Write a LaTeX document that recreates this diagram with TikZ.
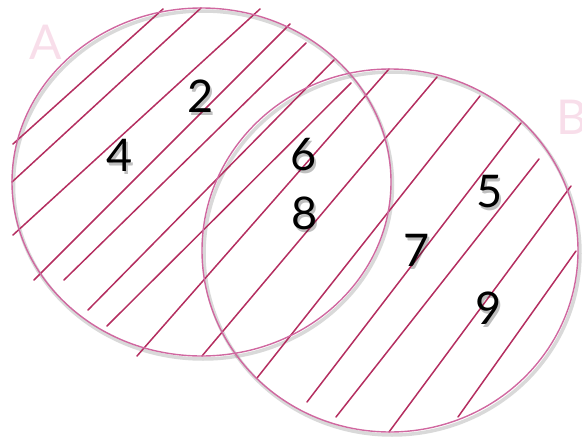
\documentclass[tikz,border=0pt]{standalone}
\usepackage{fontspec}
\setmainfont{Lato}
\usepackage{tikz}
\usetikzlibrary{positioning}
\definecolor{ringpink}{RGB}{208,104,160}
\definecolor{hatchred}{RGB}{180,46,96}
\definecolor{setpale}{RGB}{248,222,234}
\tikzset{
  ring/.style ={draw=ringpink, line width=1.4pt},
  ringshade/.style ={draw=black, opacity=0.15, line width=3.5pt},
  hatch/.style ={draw=hatchred, line width=1.5pt, line cap=round},
  elem/.style ={inner sep=0pt, text=black, font=\fontsize{45}{45}\selectfont},
  elemshade/.style ={elem, text=black, opacity=0.25},
  setname/.style ={inner sep=0pt, text=setpale, font=\fontsize{48}{48}\selectfont},
}

\begin{document}
\begin{tikzpicture}[x=1pt, y=-1pt]
\useasboundingbox (0,0) rectangle (582,442);
% set names
\node[setname] (nameA) at (46,42) {A};
\node[setname] (nameB) at (572,117) {B};
% shadows of the rings
\draw[ringshade] (203,185) ellipse [x radius=189.5pt, y radius=174pt];
\draw[ringshade] (392,253.5) ellipse [x radius=188pt, y radius=181.5pt];
% hatching
\foreach \xa/\ya/\xb/\yb in {13/144/163/9, 12/182/201/8, 13/235/260/9, 34/280/290/24,
  64/280/306/43, 88/310/334/60, 107/326/351/83, 137/356/389/69, 202/356/437/77,
  257/378/480/96, 307/402/521/123, 336/417/539/159, 389/432/571/186, 458/417/576/251}
  \draw[hatch] (\xa,\ya) -- (\xb,\yb);
% rings
\draw[ring] (201.5,182) ellipse [x radius=189.5pt, y radius=174pt];
\draw[ring] (390,250.5) ellipse [x radius=188pt, y radius=181.5pt];
% elements
\foreach \n/\x/\y in {2/201/96, 4/120/155, 6/304/155, 8/305/213, 7/417/250, 5/490/192, 9/489/308} {
  \node[elemshade] at (\x+2,\y+3) {\n};
  \node[elem] (elem\n) at (\x,\y) {\n};
}
\end{tikzpicture}
\end{document}
